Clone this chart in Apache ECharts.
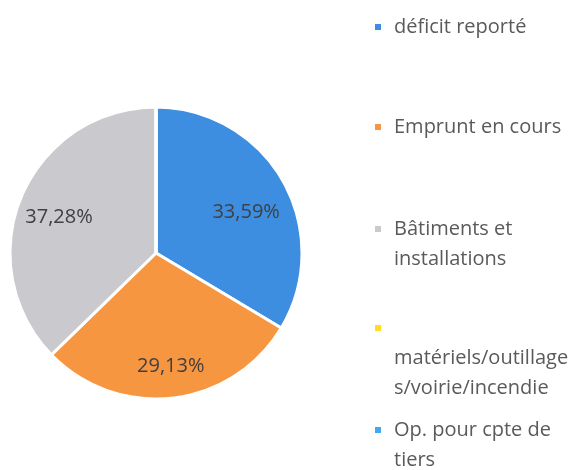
<!DOCTYPE html>
<html>
<head>
<meta charset="utf-8">
<script src="https://cdn.jsdelivr.net/npm/echarts@6/dist/echarts.min.js"></script>
<style>
  html, body { margin: 0; padding: 0; background: #fff; }
  #chart { width: 578px; height: 470px; }
</style>
</head>
<body>
<div id="chart"></div>
<script>
var categories = ['déficit reporté', 'Emprunt en cours', 'Bâtiments et installations',
    'matériels/outillages/voirie/incendie', 'Op. pour cpte de tiers'];
// wrapped legend text as excel shows it; '' = line holding only the marker
var legendLines = [['déficit reporté'], ['Emprunt en cours'], ['Bâtiments et', 'installations'],
    ['', 'matériels/outillage', 's/voirie/incendie'], ['Op. pour cpte de', 'tiers']];
var shares = [33.59, 29.13, 37.28, 0, 0];
var colors = ['#3d8ee0', '#f69640', '#c9c9ce', '#ffdd22', '#3fa9f2'];

// label nudges (excel places them a bit off the middle radius)
var labelOffsets = [[24, -3], [6, 38], [-27, -6], [0, 0], [0, 0]];
// legend item tops, right column
var legendTops = [12, 112, 184, 253, 385];

var chart = echarts.init(document.getElementById('chart'));

var pieData = [];
for (var i = 0; i < categories.length; i++) {
    pieData.push({
        name: categories[i],
        value: shares[i],
        itemStyle: { color: colors[i] },
        label: { show: shares[i] > 0, offset: labelOffsets[i] }
    });
}

// the legend centres text on the marker, so pad with empty lines above
// to keep the marker on the first line
function legendText(lines) {
    var below = lines.length - 1;
    var out = [];
    for (var k = 0; k < below; k++) out.push('');
    return out.concat(lines).join('\n');
}

var legends = [];
for (var j = 0; j < categories.length; j++) {
    legends.push({
        data: [categories[j]],
        orient: 'vertical',
        left: 373,
        top: legendTops[j],
        padding: 0,
        icon: 'rect',
        itemWidth: 8,
        itemHeight: 8,
        selectedMode: false,
        formatter: (function (t) { return function () { return t; }; })(legendText(legendLines[j])),
        textStyle: {
            fontFamily: 'Open Sans',
            fontSize: 20,
            color: '#5a5a5a',
            lineHeight: 30,
            padding: [0, 0, 0, 7]
        }
    });
}

chart.setOption({
    animation: false,
    legend: legends,
    series: [{
        type: 'pie',
        center: [156, 253],
        radius: 146,
        startAngle: 90,
        clockwise: true,
        emphasis: { disabled: true },
        itemStyle: { borderColor: '#ffffff', borderWidth: 3 },
        label: {
            position: 'inside',
            fontFamily: 'Open Sans',
            fontSize: 20,
            color: '#404040',
            formatter: function (p) {
                return p.value.toFixed(2).replace('.', ',') + '%';
            }
        },
        labelLine: { show: false },
        data: pieData
    }]
});
</script>
</body>
</html>
